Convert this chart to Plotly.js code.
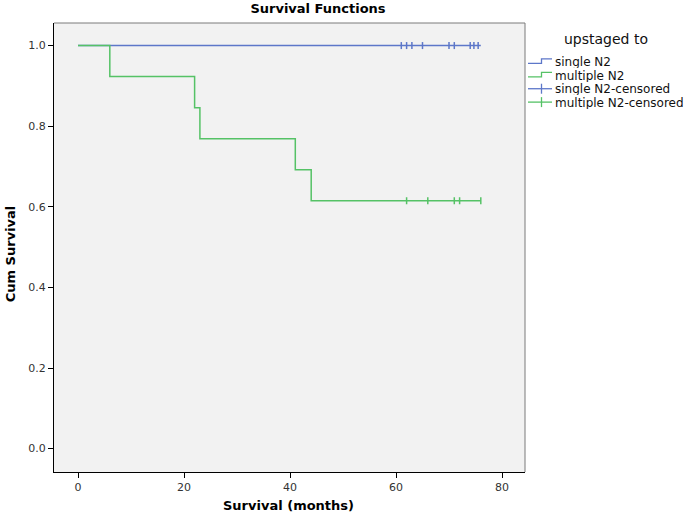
<!DOCTYPE html>
<html>
<head>
<meta charset="utf-8">
<script src="https://cdn.plot.ly/plotly-3.0.1.min.js"></script>
<style>html,body{margin:0;padding:0;background:#fff;}#chart{width:685px;height:514px;}</style>
</head>
<body>
<div id="chart"></div>
<script>
// ---- data ----
const singleTimes = [0, 76];
const singleSurv = [1.0, 1.0];
const multipleTimes = [0, 6, 22, 23, 41, 44, 76];
const multipleSurv = [1.0, 0.923, 0.846, 0.769, 0.692, 0.615, 0.615];
const singleCensTimes = [61, 62, 63, 65, 70, 71, 74, 74.7, 75.5];
const singleCensSurv = [1, 1, 1, 1, 1, 1, 1, 1, 1];
const multipleCensTimes = [62, 66, 71, 72, 76];
const multipleCensSurv = [0.615, 0.615, 0.615, 0.615, 0.615];
const legendTitle = 'upstaged to';
const legendLabels = ['single N2', 'multiple N2', 'single N2-censored', 'multiple N2-censored'];
const xTicks = [0, 20, 40, 60, 80];
const yTicks = [0.0, 0.2, 0.4, 0.6, 0.8, 1.0];

const BLUE = '#5d77c9';
const GREEN = '#55c266';
const FONT = 'DejaVu Sans, Verdana, sans-serif';

// plot-area geometry (pixels)
const L = 54, R = 525, T = 22.5, B = 472;
const W = 685, H = 514;
const px = x => (x - L) / (R - L);
const py = y => (B - y) / (B - T);

const traces = [
  {x: singleTimes, y: singleSurv, mode: 'lines', line: {shape: 'hv', color: BLUE, width: 1.5}, showlegend: false, hoverinfo: 'skip'},
  {x: multipleTimes, y: multipleSurv, mode: 'lines', line: {shape: 'hv', color: GREEN, width: 1.5}, showlegend: false, hoverinfo: 'skip'},
  {x: singleCensTimes, y: singleCensSurv, mode: 'markers', marker: {symbol: 'line-ns', size: 5, line: {color: BLUE, width: 1.5}}, showlegend: false, hoverinfo: 'skip'},
  {x: multipleCensTimes, y: multipleCensSurv, mode: 'markers', marker: {symbol: 'line-ns', size: 5, line: {color: GREEN, width: 1.5}}, showlegend: false, hoverinfo: 'skip'}
];

const shapes = [
  // top and right frame
  {type: 'line', xref: 'paper', yref: 'paper', x0: 0, x1: 1, y0: 1, y1: 1, line: {color: '#7a7a7a', width: 1}},
  {type: 'line', xref: 'paper', yref: 'paper', x0: 1, x1: 1, y0: 0, y1: 1, line: {color: '#7a7a7a', width: 1}}
];

// custom legend symbols
const rowsY = [61.5, 75, 88.3, 101.7];
const colors = [BLUE, GREEN, BLUE, GREEN];
const sx0 = 528, sxm = 541.5, sx1 = 552;
for (let i = 0; i < 2; i++) {
  const yb = rowsY[i] + 1.5, yt = rowsY[i] - 3;
  shapes.push({type: 'path', xref: 'paper', yref: 'paper',
    path: `M ${px(sx0)} ${py(yb)} L ${px(sxm)} ${py(yb)} L ${px(sxm)} ${py(yt)} L ${px(sx1)} ${py(yt)}`,
    line: {color: colors[i], width: 1.3}});
}
for (let i = 2; i < 4; i++) {
  const yc = rowsY[i];
  shapes.push({type: 'line', xref: 'paper', yref: 'paper', x0: px(sx0), x1: px(sx1), y0: py(yc), y1: py(yc), line: {color: colors[i], width: 1.3}});
  shapes.push({type: 'line', xref: 'paper', yref: 'paper', x0: px(sxm), x1: px(sxm), y0: py(yc - 5), y1: py(yc + 5), line: {color: colors[i], width: 1.3}});
}

const annotations = [
  {text: '<b>Cum Survival</b>', xref: 'paper', yref: 'paper', x: px(10), y: py(254), textangle: -90, showarrow: false, xanchor: 'center', yanchor: 'middle', font: {family: FONT, size: 13, color: '#000'}},
  {text: '<b>Survival (months)</b>', xref: 'paper', yref: 'paper', x: px(288), y: py(506), showarrow: false, xanchor: 'center', yanchor: 'middle', font: {family: FONT, size: 13, color: '#000'}},
  {text: legendTitle, xref: 'paper', yref: 'paper', x: px(606), y: py(39), showarrow: false, xanchor: 'center', yanchor: 'middle', font: {family: FONT, size: 14, color: '#111'}}
];
legendLabels.forEach((t, i) => {
  annotations.push({text: t, xref: 'paper', yref: 'paper', x: px(553), y: py(rowsY[i]), height: 13, valign: 'middle', showarrow: false, xanchor: 'left', yanchor: 'middle', font: {family: FONT, size: 12, color: '#111'}});
});

const layout = {
  width: W, height: H,
  margin: {l: L, r: W - R, t: T, b: H - B, pad: 0},
  paper_bgcolor: '#ffffff',
  plot_bgcolor: '#f2f2f2',
  showlegend: false,
  title: {text: '<b>Survival Functions</b>', xref: 'container', yref: 'container', x: 318 / W, y: 1 - 8.5 / H, xanchor: 'center', yanchor: 'middle', font: {family: FONT, size: 13, color: '#000'}},
  xaxis: {range: [-4.53, 84.34], tickvals: xTicks, ticktext: xTicks.map(String), showgrid: false, zeroline: false,
    showline: true, linecolor: '#000', linewidth: 1, ticks: 'outside', ticklen: 5, tickcolor: '#000',
    tickfont: {family: FONT, size: 11, color: '#333'}},
  yaxis: {range: [-0.058, 1.056], tickvals: yTicks, ticktext: yTicks.map(v => v.toFixed(1)), showgrid: false, zeroline: false,
    showline: true, linecolor: '#000', linewidth: 1, ticks: 'outside', ticklen: 5, tickcolor: '#000',
    tickfont: {family: FONT, size: 11, color: '#333'}},
  shapes: shapes,
  annotations: annotations
};

Plotly.newPlot('chart', traces, layout, {staticPlot: true, displayModeBar: false});
</script>
</body>
</html>
